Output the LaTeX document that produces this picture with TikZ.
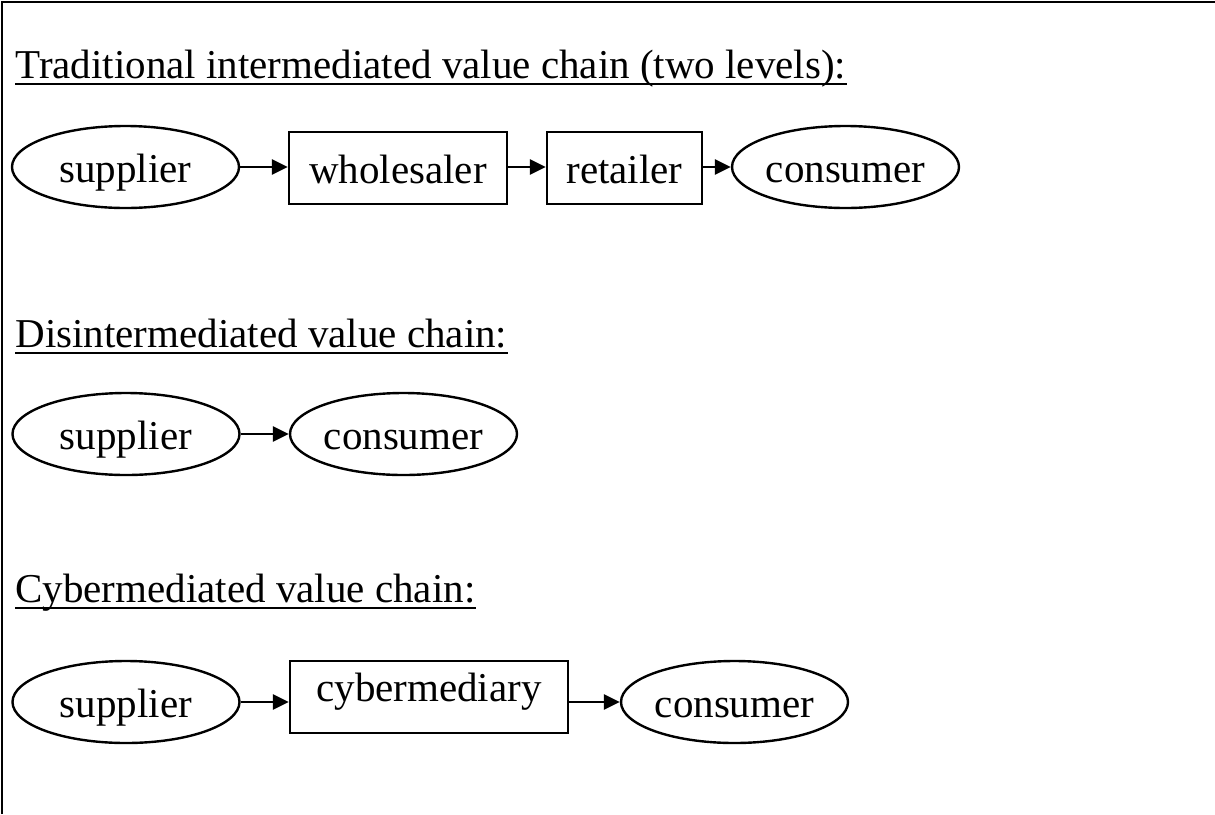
\documentclass[tikz,border=0pt]{standalone}
\usepackage{fontspec}
\setmainfont{Liberation Serif}
\usetikzlibrary{shapes.geometric,arrows.meta}
\tikzset{
  party/.style={ellipse, draw, line width=1.2pt, minimum width=113.5pt,
    minimum height=41pt, inner sep=0pt, text height=17pt, text depth=2pt},
  middleman/.style={rectangle, draw, line width=1.2pt, minimum height=36pt,
    inner sep=0pt, text height=17pt, text depth=2pt},
  flow/.style={line width=1.4pt, -{Triangle[length=8pt,width=7.5pt]}},
  heading/.style={anchor=base west, inner sep=0pt}
}
\begin{document}
\begin{tikzpicture}[x=0.5pt,y=-0.5pt,font=\fontsize{20.5pt}{24pt}\selectfont]
  \useasboundingbox (0,0) rectangle (1215,814);
  \draw[line width=1.1pt] (2,814) -- (2,2) -- (1215,2);
  % traditional chain
  \node (t1) at (15,78) [heading] {Traditional intermediated value chain (two levels):};
  \draw[line width=1pt] ([yshift=-3pt]t1.base west) -- ([yshift=-3pt]t1.base east);
  \node (s1) at (125.5,167) [party] {supplier}; \node (w1) at (398,168)
  [middleman, minimum width=109pt] {wholesaler}; \node (r1) at (624.5,168)
  [middleman, minimum width=77.5pt] {retailer}; \node (c1) at (845.5,167)
  [party] {consumer};
  \draw[flow] (s1.east) -- (s1.east -| w1.west); \draw[flow] (w1.east |- s1.east) -- (r1.west |- s1.east);
  \draw[flow] (r1.east |- c1.west) -- (c1.west);
  % disintermediated chain
  \node (t2) at (15,347) [heading] {Disintermediated value chain:};
  \draw[line width=1pt] ([yshift=-3pt]t2.base west) -- ([yshift=-3pt]t2.base east);
  \node (s2) at (126,434) [party] {supplier}; \node (c2) at (403.5,434)
  [party] {consumer};
  \draw[flow] (s2.east) -- (c2.west);
  % cybermediated chain
  \node (t3) at (15,602) [heading] {Cybermediated value chain:};
  \draw[line width=1pt] ([yshift=-3pt]t3.base west) -- ([yshift=-3pt]t3.base east);
  \node (s3) at (126,702) [party] {supplier}; \node (m3) at (429,697)
  [middleman, minimum width=139pt, text height=12pt, text depth=8pt] {cybermediary};
  \node (c3) at (734.5,702) [party] {consumer};
  \draw[flow] (s3.east) -- (s3.east -| m3.west); \draw[flow] (m3.east |- c3.west) -- (c3.west);
\end{tikzpicture}
\end{document}
